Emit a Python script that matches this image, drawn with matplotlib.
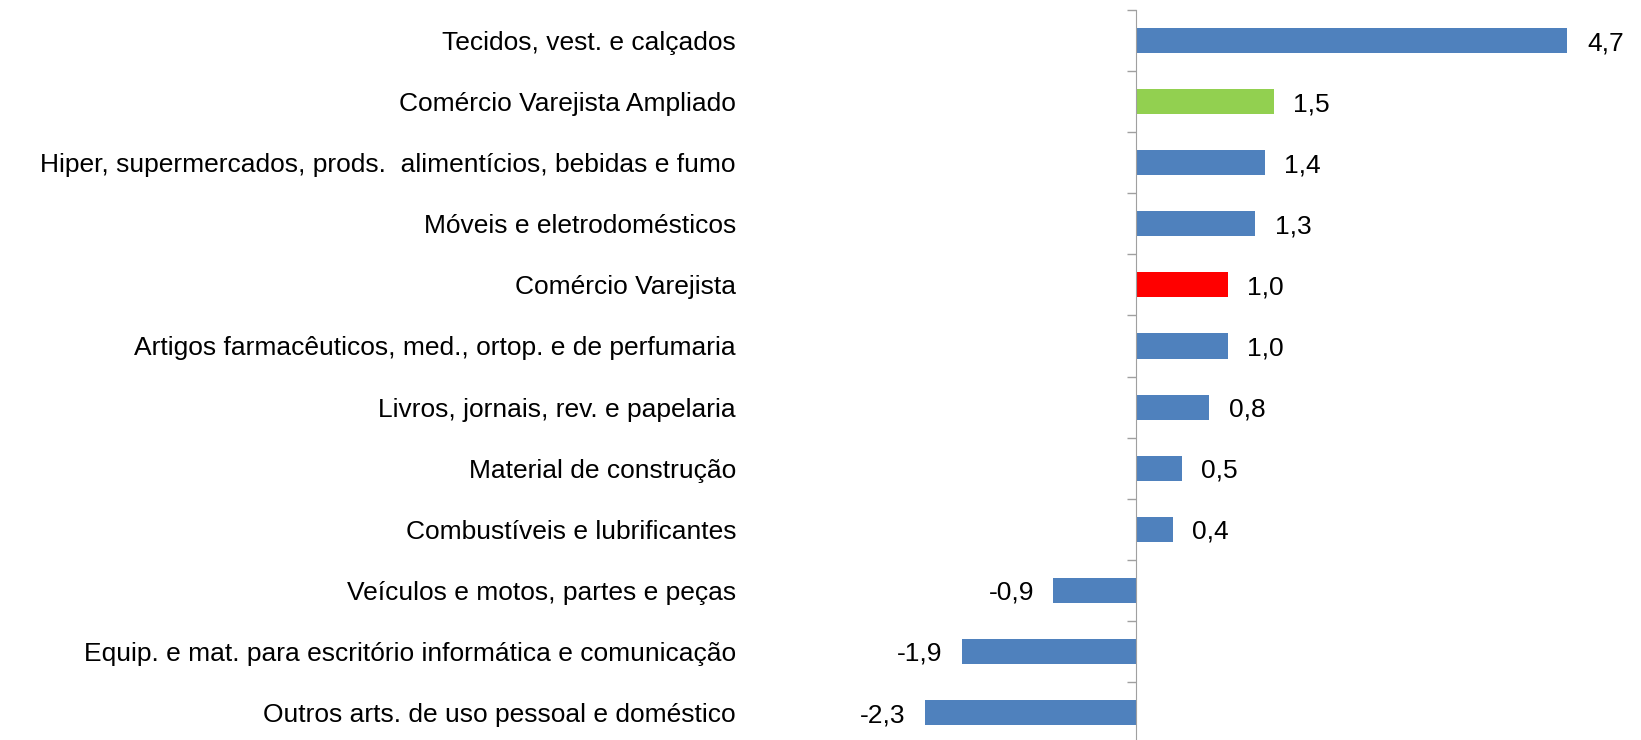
import numpy as np
import matplotlib
matplotlib.use("Agg")
import matplotlib.pyplot as plt

categories = [
    "Tecidos, vest. e calçados",
    "Comércio Varejista Ampliado",
    "Hiper, supermercados, prods.  alimentícios, bebidas e fumo",
    "Móveis e eletrodomésticos",
    "Comércio Varejista",
    "Artigos farmacêuticos, med., ortop. e de perfumaria",
    "Livros, jornais, rev. e papelaria",
    "Material de construção",
    "Combustíveis e lubrificantes",
    "Veículos e motos, partes e peças",
    "Equip. e mat. para escritório informática e comunicação",
    "Outros arts. de uso pessoal e doméstico",
]
values = [4.7, 1.5, 1.4, 1.3, 1.0, 1.0, 0.8, 0.5, 0.4, -0.9, -1.9, -2.3]
colors = ["#4F81BD", "#92D050", "#4F81BD", "#4F81BD", "#FF0000", "#4F81BD",
          "#4F81BD", "#4F81BD", "#4F81BD", "#4F81BD", "#4F81BD", "#4F81BD"]

plt.rcParams['font.family'] = ['Liberation Sans', 'DejaVu Sans']

W, H, dpi = 1641, 740, 100
fig = plt.figure(figsize=(W / dpi, H / dpi), dpi=dpi)

# axes placed in pixel terms: zero line sits near x=1136px
left_px, right_px, top_px, bot_px = 760, 1641, 10, 740
ax = fig.add_axes([left_px / W, 1 - bot_px / H, (right_px - left_px) / W, (bot_px - top_px) / H])

px_per_unit = 91.8
zero_px = 1136
ax.set_xlim(-(zero_px - left_px) / px_per_unit, (right_px - zero_px) / px_per_unit)

n = len(categories)
pos = np.arange(n)
ax.barh(pos, values, height=0.41, color=colors)
ax.set_ylim(11.45, -0.5)

fs = 19
for p, v in zip(pos, values):
    txt = f"{v:.1f}".replace(".", ",")
    if v >= 0:
        ax.annotate(txt, (v, p), xytext=(14, 0), textcoords="offset points",
                    ha="left", va="center_baseline", fontsize=fs)
    else:
        ax.annotate(txt, (v, p), xytext=(-14, 0), textcoords="offset points",
                    ha="right", va="center_baseline", fontsize=fs)

# category axis on the zero line, labels pushed far left
for s in ["top", "right", "bottom"]:
    ax.spines[s].set_visible(False)
ax.spines["left"].set_position(("data", 0))
ax.spines["left"].set_color("#A0A0A0")
ax.set_xticks([])
ax.set_yticks(pos)
ax.set_yticklabels(categories, fontsize=fs)
ax.tick_params(axis="y", which="major", length=0, pad=(zero_px - 736) * 72 / dpi)
ax.set_yticks(np.arange(n) - 0.5, minor=True)
ax.tick_params(axis="y", which="minor", length=6.5, color="#A0A0A0", width=1)

fig.savefig("out.png", dpi=dpi)
